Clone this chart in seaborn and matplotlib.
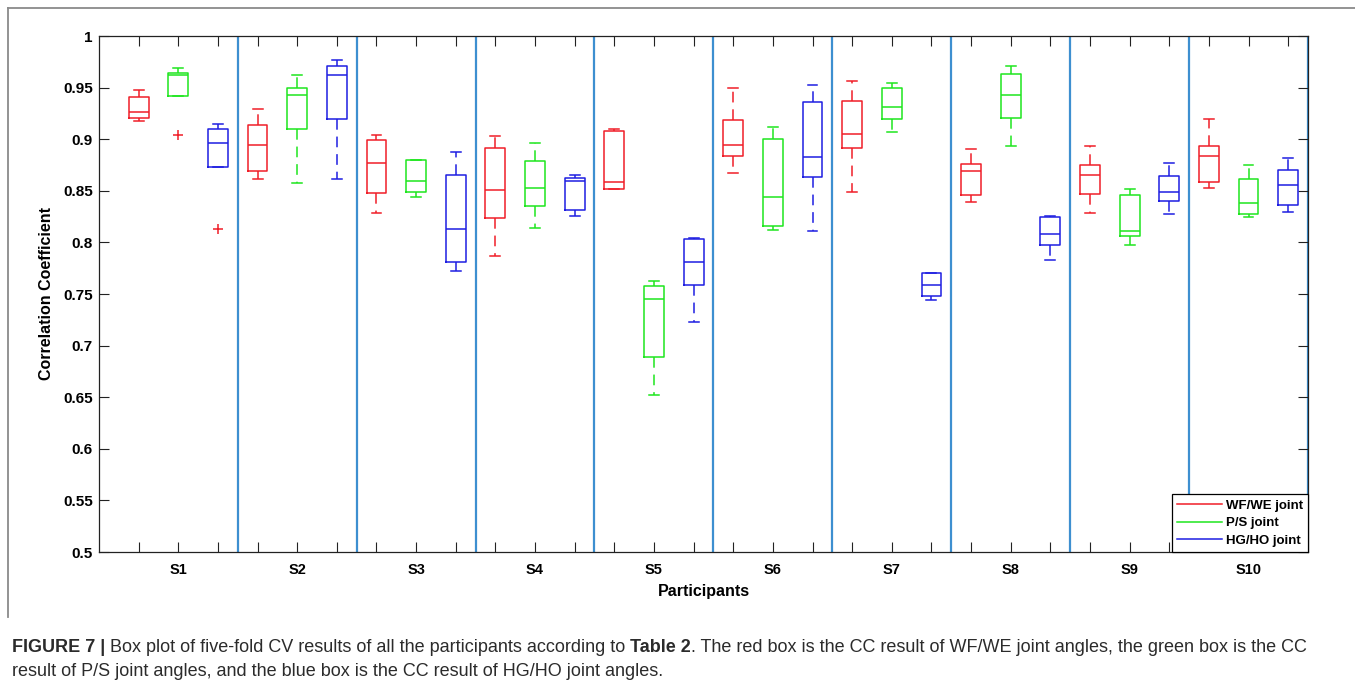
import numpy as np
import pandas as pd
import matplotlib
matplotlib.use("Agg")
import matplotlib.pyplot as plt
import seaborn as sns
from matplotlib.lines import Line2D

# ---------------- data ----------------
participants = ["S1", "S2", "S3", "S4", "S5", "S6", "S7", "S8", "S9", "S10"]
joints = ["WF/WE joint", "P/S joint", "HG/HO joint"]

# five-fold CV correlation coefficients per participant
wf_we = [
    [0.9181, 0.9207, 0.9265, 0.9408, 0.9473],
    [0.8618, 0.8696, 0.8942, 0.9133, 0.9288],
    [0.8282, 0.8482, 0.8767, 0.8990, 0.9036],
    [0.7864, 0.8236, 0.8505, 0.8910, 0.9032],
    [0.8518, 0.8518, 0.8583, 0.9075, 0.9100],
    [0.8676, 0.8841, 0.8948, 0.9184, 0.9495],
    [0.8485, 0.8910, 0.9055, 0.9366, 0.9560],
    [0.8395, 0.8463, 0.8696, 0.8764, 0.8903],
    [0.8285, 0.8469, 0.8650, 0.8748, 0.8932],
    [0.8525, 0.8583, 0.8835, 0.8932, 0.9194],
]
p_s = [
    [0.9045, 0.9418, 0.9618, 0.9644, 0.9692],
    [0.8576, 0.9097, 0.9430, 0.9495, 0.9618],
    [0.8443, 0.8492, 0.8592, 0.8803, 0.8803],
    [0.8136, 0.8350, 0.8531, 0.8786, 0.8964],
    [0.6521, 0.6886, 0.7447, 0.7573, 0.7624],
    [0.8123, 0.8162, 0.8440, 0.9003, 0.9120],
    [0.9071, 0.9197, 0.9314, 0.9492, 0.9541],
    [0.8932, 0.9210, 0.9430, 0.9634, 0.9706],
    [0.7978, 0.8065, 0.8107, 0.8460, 0.8518],
    [0.8247, 0.8271, 0.8383, 0.8615, 0.8751],
]
hg_ho = [
    [0.8133, 0.8728, 0.8968, 0.9094, 0.9149],
    [0.8618, 0.9197, 0.9624, 0.9706, 0.9770],
    [0.7725, 0.7813, 0.8131, 0.8654, 0.8874],
    [0.8259, 0.8310, 0.8595, 0.8621, 0.8650],
    [0.7226, 0.7592, 0.7806, 0.8030, 0.8042],
    [0.8113, 0.8634, 0.8832, 0.9362, 0.9527],
    [0.7440, 0.7482, 0.7583, 0.7702, 0.7702],
    [0.7832, 0.7977, 0.8078, 0.8243, 0.8252],
    [0.8278, 0.8405, 0.8492, 0.8647, 0.8774],
    [0.8293, 0.8367, 0.8554, 0.8697, 0.8816],
]

y_ticks = [0.5, 0.55, 0.6, 0.65, 0.7, 0.75, 0.8, 0.85, 0.9, 0.95, 1.0]
y_tick_labels = ["0.5", "0.55", "0.6", "0.65", "0.7", "0.75", "0.8", "0.85", "0.9", "0.95", "1"]

caption_line1 = [
    ("FIGURE 7 | ", "bold"),
    ("Box plot of five-fold CV results of all the participants according to ", "normal"),
    ("Table 2", "bold"),
    (". The red box is the CC result of WF/WE joint angles, the green box is the CC", "normal"),
]
caption_line2 = "result of P/S joint angles, and the blue box is the CC result of HG/HO joint angles."

# ---------------- styling ----------------
RED, GREEN, BLUE = "#f01e28", "#1ee61e", "#1e1ee1"
SEP = "#3d8fd0"
palette = dict(zip(joints, [RED, GREEN, BLUE]))

plt.rcParams["font.family"] = ["Liberation Sans", "DejaVu Sans"]

rows = []
for joint, vals in zip(joints, [wf_we, p_s, hg_ho]):
    for p, fold_vals in zip(participants, vals):
        for v in fold_vals:
            rows.append({"Participant": p, "Joint": joint, "CC": v})
df = pd.DataFrame(rows)

W, H = 1355, 687
fig = plt.figure(figsize=(W / 100, H / 100), dpi=100)
ax = fig.add_axes([99 / W, 1 - 552 / H, (1308 - 99) / W, (552 - 36) / H])

sns.boxplot(
    data=df, x="Participant", y="CC", hue="Joint",
    order=participants, hue_order=joints, palette=palette,
    fill=False, dodge=True, width=1.0, gap=0.5, linewidth=1.1,
    whis=1.5, legend=False, ax=ax,
    flierprops=dict(marker="+", markeredgecolor=RED, markerfacecolor=RED,
                    markersize=7, markeredgewidth=1.1),
    whiskerprops=dict(linestyle=(0, (7, 4.5))),
)

# separators between participants
for i in range(len(participants)):
    ax.axvline(i + 0.5, color=SEP, lw=1.6, zorder=0.5)

ax.set_xlim(-2 / 3, len(participants) - 0.5)
ax.set_ylim(0.5, 1.0)

xt, xl = [], []
for i, p in enumerate(participants):
    for d, lab in zip((-1 / 3, 0, 1 / 3), ("", p, "")):
        xt.append(i + d)
        xl.append(lab)
ax.set_xticks(xt)
ax.set_xticklabels(xl, fontweight="bold", fontsize=10.5)
ax.set_yticks(y_ticks)
ax.set_yticklabels(y_tick_labels, fontweight="bold", fontsize=11)
ax.tick_params(axis="x", direction="in", length=7, width=0.8, top=True, pad=8, color="#222222")
ax.tick_params(axis="y", direction="in", length=7, width=0.8, right=True, pad=4.5, color="#222222")
for s in ax.spines.values():
    s.set_linewidth(0.9)
    s.set_color("#222222")

ax.set_xlabel("Participants", fontweight="bold", fontsize=11.5)
ax.set_ylabel("Correlation Coefficient", fontweight="bold", fontsize=11.5)
ax.xaxis.set_label_coords(0.5, -0.062)
ax.yaxis.set_label_coords(-0.037, 0.5)

handles = [Line2D([0], [0], color=palette[j], lw=1.1) for j in joints]
leg = ax.legend(handles, joints, loc="lower right", borderaxespad=0, fancybox=False,
                framealpha=1, edgecolor="black", handlelength=3.4, handletextpad=0.3,
                borderpad=0.4, labelspacing=0.4, prop={"weight": "bold", "size": 9.5})
leg.get_frame().set_linewidth(0.9)

# outer frame
fig.add_artist(Line2D([8 / W, 1], [1 - 8 / H, 1 - 8 / H], color="#8a8a8a", lw=1.3))
fig.add_artist(Line2D([8 / W, 8 / W], [1 - 8 / H, 1 - 617 / H], color="#8a8a8a", lw=1.3))

# caption
fig.canvas.draw()
r = fig.canvas.get_renderer()
cap_size = 13.0
x = 12 / W
y1 = 1 - 652 / H
for txt, wt in caption_line1:
    t = fig.text(x, y1, txt, fontsize=cap_size, fontweight=wt, color="#2b2b2b",
                 ha="left", va="baseline")
    x += t.get_window_extent(r).width / W
fig.text(12 / W, 1 - 676 / H, caption_line2, fontsize=cap_size, color="#2b2b2b",
         ha="left", va="baseline")

fig.savefig("out.png", dpi=100)
